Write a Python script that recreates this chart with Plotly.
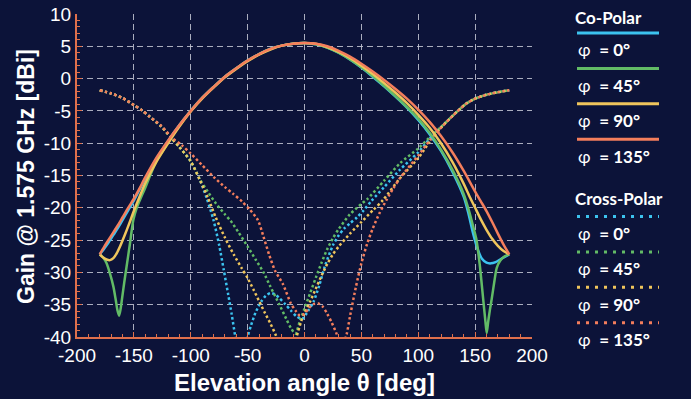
import plotly.graph_objects as go

# ---------------- data ----------------
# Co-polar
co_theta_0 = [-180,-176,-172,-168,-164,-160,-155,-150,-145,-140,-130,-120,-110,-100,-90,-80,-70,-60,-50,-40,-30,-20,-10,0,10,20,30,40,50,60,70,80,90,100,110,120,130,140,144,148,152,156,160,164,168,172,176,180]
co_gain_0 = [-27.2,-26.3,-25.3,-24.2,-23.1,-21.9,-20.4,-18.9,-17.2,-15.5,-12.4,-9.7,-7.2,-5.0,-3.0,-1.3,0.3,1.6,2.8,3.8,4.6,5.1,5.4,5.5,5.3,4.8,4.0,2.95,1.7,0.3,-1.2,-2.8,-4.5,-6.4,-8.6,-11.2,-14.4,-18.3,-20.8,-23.8,-26.3,-27.9,-28.5,-28.6,-28.4,-28.0,-27.6,-27.2]

co_theta_45 = [-180,-177,-174,-171,-168,-166,-164.5,-163,-161.8,-160.5,-158.5,-156.5,-153.5,-150.5,-147.5,-144.5,-140,-135,-130,-120,-110,-100,-90,-80,-70,-60,-50,-40,-30,-20,-10,0,10,20,30,40,50,60,70,80,90,100,110,120,130,140,145,148,151,154,157,159,160.2,161.5,163,164.5,167,169,172,176,180]
co_gain_45 = [-27.2,-27.7,-28.6,-30.2,-32.2,-34.2,-35.8,-36.7,-35.8,-34.2,-31.6,-29.2,-25.6,-21.9,-20.0,-18.7,-16.9,-14.7,-12.7,-9.9,-7.3,-5.0,-3.0,-1.3,0.3,1.6,2.8,3.8,4.6,5.1,5.4,5.5,5.3,4.8,4.0,2.95,1.75,0.4,-1.1,-2.7,-4.4,-6.2,-8.4,-11.0,-14.1,-17.9,-20.7,-22.7,-24.8,-28.7,-34.0,-37.5,-39.4,-37.6,-35.8,-34.2,-31.3,-29.3,-28.2,-27.5,-27.2]

co_theta_90 = [-180,-177,-174,-171,-168,-165,-162,-158,-154,-150,-145,-140,-130,-120,-110,-100,-90,-80,-70,-60,-50,-40,-30,-20,-10,0,10,20,30,40,50,60,70,80,90,100,110,120,130,140,145,150,155,160,165,170,175,180]
co_gain_90 = [-27.2,-27.7,-28.0,-28.1,-27.8,-27.0,-25.9,-24.2,-22.4,-20.5,-18.3,-16.2,-12.8,-10.0,-7.4,-5.1,-3.1,-1.4,0.2,1.5,2.7,3.7,4.5,5.1,5.4,5.5,5.4,4.9,4.15,3.2,2.0,0.7,-0.7,-2.2,-3.8,-5.6,-7.6,-10.0,-12.9,-16.3,-18.2,-20.0,-21.8,-23.4,-24.8,-25.9,-26.7,-27.2]

co_theta_135 = [-180,-176,-172,-168,-164,-160,-155,-150,-145,-140,-130,-120,-110,-100,-90,-80,-70,-60,-50,-40,-30,-20,-10,0,10,20,30,40,50,60,70,80,90,100,110,120,130,140,150,155,160,165,170,175,180]
co_gain_135 = [-27.2,-26.0,-24.9,-23.8,-22.7,-21.5,-20.0,-18.6,-17.0,-15.3,-12.2,-9.6,-7.2,-5.0,-3.0,-1.3,0.3,1.6,2.8,3.8,4.6,5.1,5.4,5.5,5.4,5.0,4.3,3.4,2.3,1.1,-0.2,-1.6,-3.1,-4.8,-6.7,-8.9,-11.4,-14.3,-17.5,-19.0,-20.5,-22.2,-24.0,-25.7,-27.2]

# Cross-polar
xp_theta_0 = [-180,-170,-160,-150,-143,-136,-126,-118,-110,-100,-92,-86,-80,-75,-71,-67,-64,-61,-57,-53,-50,-47,-43,-38,-34,-30,-26,-22,-17,-12,-7,-2,3,8,13,18,25,30,35,40,46,52,59,70,84,100,110,120,130,142,150,160,170,180]
xp_gain_0 = [-1.8,-2.3,-3.0,-4.1,-4.9,-5.9,-7.4,-9.0,-10.6,-12.8,-15.7,-18.5,-21.9,-25.8,-29.6,-33.5,-36.5,-39.8,-44.0,-44.0,-40.0,-38.2,-36.2,-34.5,-33.6,-33.2,-33.4,-34.0,-34.9,-35.9,-36.8,-37.2,-36.0,-34.5,-32.0,-29.0,-25.8,-24.3,-23.2,-22.4,-21.5,-20.4,-18.9,-16.8,-14.1,-11.4,-9.3,-7.5,-5.8,-3.9,-3.1,-2.5,-2.1,-1.8]

xp_theta_45 = [-180,-170,-160,-150,-143,-136,-126,-118,-110,-100,-92,-85,-78,-70,-65,-58,-50,-43,-36,-30,-22,-16,-12,-8,-4,0,5,10,15,20,25,30,40,50,55,70,84,100,110,120,130,142,150,160,170,180]
xp_gain_45 = [-1.8,-2.3,-3.0,-4.1,-4.9,-5.9,-7.4,-9.0,-10.6,-12.8,-15.6,-17.5,-19.3,-21.0,-22.0,-23.8,-26.0,-28.0,-30.0,-32.2,-35.0,-37.2,-38.6,-39.5,-37.5,-35.6,-33.2,-30.8,-28.5,-26.4,-24.7,-23.3,-21.0,-19.4,-18.7,-15.8,-13.1,-10.8,-9.1,-7.5,-5.8,-3.9,-3.1,-2.5,-2.1,-1.8]

xp_theta_90 = [-180,-170,-160,-150,-143,-136,-126,-118,-110,-100,-92,-85,-78,-70,-62,-55,-50,-45,-40,-35,-30,-25,-20,-15,-10,-7,-3,0,5,10,15,20,25,30,40,50,60,69,84,100,110,120,130,142,150,160,170,180]
xp_gain_90 = [-1.8,-2.3,-3.0,-4.1,-4.9,-5.9,-7.4,-9.0,-10.6,-12.8,-15.7,-18.4,-21.5,-24.6,-27.3,-29.4,-30.9,-32.6,-34.4,-36.2,-37.9,-39.8,-42.0,-43.0,-41.8,-40.0,-37.6,-36.3,-34.5,-32.5,-30.5,-28.7,-27.2,-26.0,-24.0,-22.2,-20.4,-18.8,-15.4,-12.3,-9.8,-7.6,-5.8,-3.9,-3.1,-2.5,-2.1,-1.8]

xp_theta_135 = [-180,-170,-160,-150,-143,-136,-126,-116,-108,-100,-90,-80,-70,-63,-55,-48,-41,-36,-31,-26,-19,-12,-8,-4,0,4,8,12,16,20,24,28,31,34,37,40,45,50,55,60,66,72,78,84,100,110,120,130,142,150,160,170,180]
xp_gain_135 = [-1.8,-2.3,-3.0,-4.1,-4.9,-5.9,-7.3,-9.2,-10.3,-11.6,-13.4,-15.2,-16.8,-17.8,-19.0,-20.3,-21.9,-24.5,-27.3,-29.7,-31.8,-34.8,-35.9,-36.7,-36.4,-35.5,-34.9,-34.8,-35.3,-36.4,-37.8,-39.4,-41.0,-41.0,-39.6,-36.8,-32.4,-28.6,-25.6,-23.2,-20.8,-18.8,-17.0,-15.4,-11.9,-9.6,-7.6,-5.8,-3.9,-3.1,-2.5,-2.1,-1.8]

phi_labels = ["0°", "45°", "90°", "135°"]
colors = ["#3cc3ef", "#62bb66", "#efc55c", "#f47e5c"]

x_ticks = [-200, -150, -100, -50, 0, 50, 100, 150, 200]
y_ticks = [-40, -35, -30, -25, -20, -15, -10, -5, 0, 5, 10]

BG = "#0c1339"
AXIS = "#e0704c"
GRID = "rgba(200,202,215,0.85)"

co_sets = [(co_theta_0, co_gain_0), (co_theta_45, co_gain_45), (co_theta_90, co_gain_90), (co_theta_135, co_gain_135)]
xp_sets = [(xp_theta_0, xp_gain_0), (xp_theta_45, xp_gain_45), (xp_theta_90, xp_gain_90), (xp_theta_135, xp_gain_135)]

fig = go.Figure()
for (th, g), c, lab in zip(xp_sets, colors, phi_labels):
    fig.add_trace(go.Scatter(x=th, y=g, mode="lines", name="Cross-Polar φ = " + lab,
                             line=dict(color=c, width=2.5, dash="2.5px,2.5px", shape="spline", smoothing=0.7),
                             showlegend=False))
for (th, g), c, lab in zip(co_sets, colors, phi_labels):
    fig.add_trace(go.Scatter(x=th, y=g, mode="lines", name="Co-Polar φ = " + lab,
                             line=dict(color=c, width=2.5, shape="spline", smoothing=0.7),
                             showlegend=False))

# plot area in pixels
L, R, T, B = 77, 532, 14, 337
W, H = 691, 399

def px_x(p):
    return (p - L) / (R - L)

def px_y(p):
    return (B - p) / (B - T)

annotations = []
shapes = []

# axis titles
annotations.append(dict(text="<b>Elevation angle θ [deg]</b>", xref="paper", yref="paper",
                        x=0.5, y=px_y(382), xanchor="center", yanchor="middle", showarrow=False,
                        font=dict(family="Liberation Sans, Arial, sans-serif", size=24, color="white")))
annotations.append(dict(text="<b>Gain @ 1.575 GHz [dBi]</b>", xref="paper", yref="paper",
                        x=px_x(26), y=px_y(177), xanchor="center", yanchor="middle", showarrow=False,
                        textangle=-90,
                        font=dict(family="Liberation Sans, Arial, sans-serif", size=23, color="white")))

# custom legend
leg_font_title = dict(family="Lato, Noto Sans, sans-serif", size=17, color="white")
leg_font_item = dict(family="Lato, Noto Sans, sans-serif", size=17, color="white")

def legend_group(title, title_y, first_line_y, dotted):
    annotations.append(dict(text="<b>" + title + "</b>", xref="paper", yref="paper",
                            x=px_x(573), y=px_y(title_y), xanchor="left", yanchor="middle",
                            showarrow=False, font=leg_font_title))
    for i, (c, lab) in enumerate(zip(colors, phi_labels)):
        ly = first_line_y + i * 35.4
        shapes.append(dict(type="line", xref="paper", yref="paper",
                           x0=px_x(577), x1=px_x(659), y0=px_y(ly), y1=px_y(ly),
                           line=dict(color=c, width=3, dash="3px,6px" if dotted else "solid")))
        annotations.append(dict(text="φ\u00a0\u00a0<b>= " + lab + "</b>", xref="paper", yref="paper",
                                x=px_x(576), y=px_y(ly + 17), xanchor="left", yanchor="middle",
                                showarrow=False, font=leg_font_item))

legend_group("Co-Polar", 17, 33, False)
legend_group("Cross-Polar", 198, 216.5, True)

axis_common = dict(
    automargin=False,
    showline=True, linecolor=AXIS, linewidth=2, mirror=False,
    showgrid=True, gridcolor=GRID, gridwidth=1, griddash="6px,4px",
    zeroline=False,
    ticks="inside", ticklen=5, tickcolor=AXIS, tickwidth=1,
    tickfont=dict(family="Liberation Sans, Arial, sans-serif", size=19, color="white"),
)

fig.update_layout(
    width=W, height=H,
    margin=dict(l=L, r=W - R, t=T, b=H - B, pad=0, autoexpand=False),
    paper_bgcolor=BG, plot_bgcolor=BG,
    showlegend=False,
    annotations=annotations,
    shapes=shapes,
    xaxis=dict(range=[-200, 200], tickvals=x_ticks, ticktext=[str(v) for v in x_ticks],
               minor=dict(ticks="inside", ticklen=3, tickcolor=AXIS, dtick=10, showgrid=False),
               **axis_common),
    yaxis=dict(range=[-40, 10], tickvals=y_ticks, ticktext=[str(v) for v in y_ticks],
               minor=dict(ticks="inside", ticklen=3, tickcolor=AXIS, dtick=1, showgrid=False),
               **axis_common),
)

post = ("document.body.style.margin='0';document.body.style.padding='0';"
        "document.body.style.background='" + BG + "';"
        "document.documentElement.style.background='" + BG + "';")
fig.write_html("out.html", post_script=post, config={"displayModeBar": False})
